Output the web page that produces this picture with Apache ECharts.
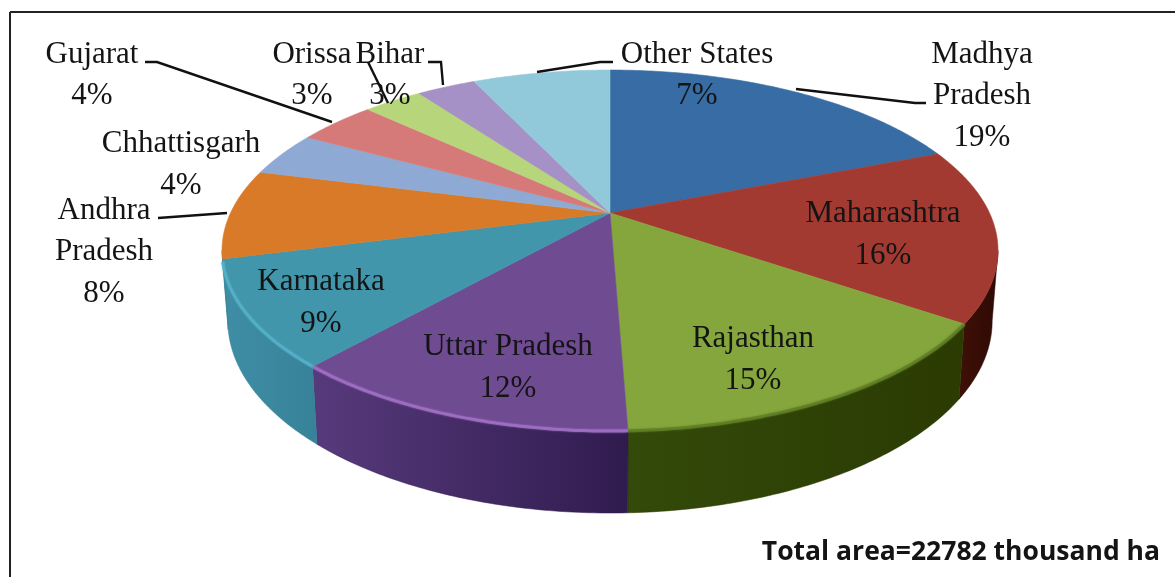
<!DOCTYPE html>
<html><head><meta charset="utf-8">
<style>html,body{margin:0;padding:0;background:#fff}#c{width:1175px;height:577px}</style>
<script src="https://cdn.jsdelivr.net/npm/echarts@6/dist/echarts.min.js"></script>
</head><body><div id="c"></div>
<script>
// --- data ---
const states = ['Madhya Pradesh','Maharashtra','Rajasthan','Uttar Pradesh','Karnataka','Andhra Pradesh','Chhattisgarh','Gujarat','Orissa','Bihar','Other States'];
const shares = [19,15.6,14.8,12.1,9.45,8.05,4,4,3,3,7];
const totalNote = 'Total area=22782 thousand ha';

// --- styling ---
const topColors = ['#376ca4','#a33a31','#84a63c','#6f4b92','#4296ac','#d97a28','#8ea9d3','#d57a78','#b7d67c','#a591c5','#92c9da'];
const wallColors = [null,['#3f1006','#2e0a04'],['#334a0a','#2b3b02'],['#573a7c','#301b4e'],['#3f8ea6','#378298'],['#378298','#378298'],null,null,null,null,null];
const rimColors = [null,null,'#5f7d26','#a070c4','#55b0c8',null,null,null,null,null,null];
const labelLines = {
  'Madhya Pradesh':[['Madhya','Pradesh'],982,[55,96,138]],
  'Maharashtra':[['Maharashtra'],883,[214,256]],
  'Rajasthan':[['Rajasthan'],753,[339,381]],
  'Uttar Pradesh':[['Uttar Pradesh'],508,[347,389]],
  'Karnataka':[['Karnataka'],321,[282,324]],
  'Andhra Pradesh':[['Andhra','Pradesh'],104,[211,252,294]],
  'Chhattisgarh':[['Chhattisgarh'],181,[144,186]],
  'Gujarat':[['Gujarat'],92,[55,96]],
  'Orissa':[['Orissa'],312,[55,96]],
  'Bihar':[['Bihar'],390,[55,96]],
  'Other States':[['Other States'],697,[55,96]]
};
const leaders = [
  [[145,62],[157,62],[332,122]],
  [[368,62],[388,103]],
  [[428,62],[441,62],[443,85]],
  [[537,72],[600,62],[613,62]],
  [[796,89],[915,103],[926,103]],
  [[158,218],[227,213]]
];

// --- projection of the tilted disc ---
const cx=610, cy=213, A=379.5, B=172.7, K=0.208;
function topPt(t){const u=Math.sin(t),v=-Math.cos(t),s=1/(1-K*v);return [cx+A*u*s,cy+B*v*s];}
function botPt(t){const p=topPt(t);return [cx+(p[0]-cx)*0.985,p[1]+75+0.064*(p[1]-322)];}
const total = shares.reduce((a,b)=>a+b,0);
let acc=0;
const sliceData = shares.map(v=>{const r=[acc/total*Math.PI*2,(acc+v)/total*Math.PI*2];acc+=v;return r;});
function arc(fn,a,b){const n=Math.max(2,Math.ceil((b-a)/0.012));const out=[];for(let i=0;i<=n;i++)out.push(fn(a+(b-a)*i/n));return out;}
const FRONT0=102*Math.PI/180, FRONT1=258*Math.PI/180;

const chart = echarts.init(document.getElementById('c'));
const textChildren=[];
states.forEach((name,i)=>{
  const L=labelLines[name];
  const lines=L[0].concat([Math.round(shares[i])+'%']);
  lines.forEach((t,k)=>textChildren.push({type:'text',x:L[1],y:L[2][k],z:10,style:{text:t,fill:'#141414',font:'31px "Liberation Serif"',align:'center',verticalAlign:'middle'}}));
});
leaders.forEach(pts=>textChildren.push({type:'polyline',z:11,shape:{points:pts},style:{stroke:'#111',lineWidth:2.4,fill:null}}));

chart.setOption({
  animation:false,
  backgroundColor:'#fff',
  graphic:[
    {type:'line',z:20,shape:{x1:10,y1:12,x2:1175,y2:12},style:{stroke:'#222',lineWidth:2}},
    {type:'line',z:20,shape:{x1:10,y1:12,x2:10,y2:577},style:{stroke:'#222',lineWidth:2}},
    {type:'group',z:30,children:textChildren},
    {type:'text',z:30,x:1160,y:552,style:{text:totalNote,fill:'#141414',font:'bold 26.5px "Open Sans"',align:'right',verticalAlign:'middle'}}
  ],
  series:[
    {type:'custom',coordinateSystem:'none',z:1,silent:true,data:sliceData,
     renderItem:function(p,api){
       const i=p.dataIndex,a=Math.max(api.value(0),FRONT0),b=Math.min(api.value(1),FRONT1),w=wallColors[i];
       if(!w||b<=a)return {type:'group',children:[]};
       const pts=arc(topPt,a,b).concat(arc(botPt,a,b).reverse());
       return {type:'polygon',shape:{points:pts},style:{
         fill:new echarts.graphic.LinearGradient(0,0,1,0,[{offset:0,color:w[0]},{offset:1,color:w[1]}]),
         stroke:w[1],lineWidth:0.5}};
     }},
    {type:'custom',coordinateSystem:'none',z:2,silent:true,data:sliceData,
     renderItem:function(p,api){
       const i=p.dataIndex;
       const pts=[[cx,cy]].concat(arc(topPt,api.value(0),api.value(1)));
       return {type:'polygon',shape:{points:pts},style:{fill:topColors[i],stroke:topColors[i],lineWidth:0.6}};
     }},
    {type:'custom',coordinateSystem:'none',z:3,silent:true,data:sliceData,
     renderItem:function(p,api){
       const i=p.dataIndex,a=Math.max(api.value(0),FRONT0),b=Math.min(api.value(1),FRONT1-0.06);
       if(!rimColors[i]||b<=a)return {type:'group',children:[]};
       return {type:'polyline',shape:{points:arc(topPt,a,b)},style:{stroke:rimColors[i],lineWidth:3,fill:null,opacity:0.8,shadowBlur:2,shadowColor:rimColors[i]}};
     }}
  ]
});
</script></body></html>
